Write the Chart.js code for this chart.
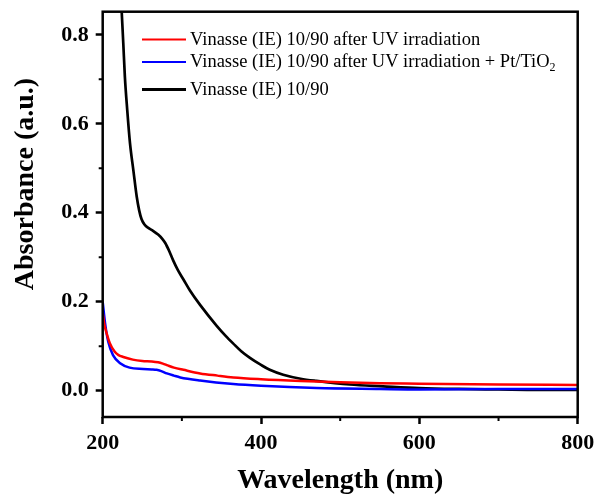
<!DOCTYPE html>
<html>
<head>
<meta charset="utf-8">
<script src="https://cdn.jsdelivr.net/npm/chart.js@4/dist/chart.umd.min.js"></script>
<style>
  html, body { margin: 0; padding: 0; background: #fff; }
  #wrap { width: 597px; height: 496px; position: relative; }
</style>
</head>
<body>
<div id="wrap"><canvas id="chrtAbs"></canvas></div>
<script>
// values
const redWl = [200, 202, 205, 209, 215, 220, 226, 238, 250, 262, 270, 276, 282, 290, 302, 323, 345, 365, 400, 450, 500, 550, 600, 700, 800];
const redAbs = [0.175, 0.150, 0.129, 0.107, 0.088, 0.080, 0.076, 0.070, 0.067, 0.066, 0.064, 0.061, 0.057, 0.052, 0.047, 0.039, 0.034, 0.030, 0.026, 0.022, 0.019, 0.017, 0.016, 0.014, 0.013];

const blueWl = [200, 203, 207, 213, 222, 234, 251, 262, 268, 274, 281, 290, 298, 323, 365, 400, 470, 550, 600, 700, 800];
const blueAbs = [0.200, 0.152, 0.110, 0.080, 0.062, 0.052, 0.049, 0.048, 0.047, 0.044, 0.039, 0.034, 0.030, 0.023, 0.015, 0.011, 0.006, 0.004, 0.003, 0.004, 0.004];

const blackWl = [222.5, 224, 226, 228, 231, 234.5, 238.7, 243, 246, 249, 253, 257.6, 264, 270, 275, 279, 284, 289, 295, 302, 310, 323, 344, 355, 365, 375, 386, 400, 411, 428, 450, 470, 512, 554, 600, 650, 700, 750, 800];
const blackAbs = [0.906, 0.852, 0.781, 0.706, 0.631, 0.556, 0.496, 0.436, 0.406, 0.386, 0.373, 0.366, 0.359, 0.351, 0.342, 0.332, 0.314, 0.293, 0.271, 0.250, 0.226, 0.193, 0.146, 0.124, 0.106, 0.089, 0.074, 0.058, 0.047, 0.036, 0.027, 0.022, 0.014, 0.010, 0.006, 0.004, 0.003, 0.002, 0.002];

const seriesLabels = [
    "Vinasse (IE) 10/90 after UV irradiation",
    "Vinasse (IE) 10/90 after UV irradiation + Pt/TiO₂",
    "Vinasse (IE) 10/90"
];
const seriesColors = ["#ff0000", "#0000ff", "#000000"];

const xMajor = [200, 400, 600, 800];
const xMinor = [300, 500, 700];
const yMajor = [0.0, 0.2, 0.4, 0.6, 0.8];
const yMinor = [0.1, 0.3, 0.5, 0.7];

const SERIF = "'Liberation Serif', 'Times New Roman', serif";

function toPoints(xs, ys) {
    return xs.map((x, i) => ({ x: x, y: ys[i] }));
}

// frame, minor ticks, y title and legend
const decoPlugin = {
    id: "deco",
    afterDatasetsDraw(chart) {
        const ctx = chart.ctx, a = chart.chartArea;
        const xs = chart.scales.x, ys = chart.scales.y;
        ctx.save();
        ctx.strokeStyle = "#000";
        ctx.lineWidth = 2.5;
        ctx.strokeRect(a.left, a.top, a.right - a.left, a.bottom - a.top);

        ctx.lineWidth = 2;
        ctx.beginPath();
        for (let v of xMinor) {
            let px = xs.getPixelForValue(v);
            ctx.moveTo(px, a.bottom);
            ctx.lineTo(px, a.bottom + 4);
        }
        for (let v of yMinor) {
            let py = ys.getPixelForValue(v);
            ctx.moveTo(a.left, py);
            ctx.lineTo(a.left - 4, py);
        }
        ctx.stroke();

        // y axis title
        ctx.fillStyle = "#000";
        ctx.font = "bold 28px " + SERIF;
        ctx.textAlign = "center";
        ctx.textBaseline = "middle";
        ctx.translate(26, 184);
        ctx.rotate(-Math.PI / 2);
        ctx.fillText("Absorbance (a.u.)", 0, 0);
        ctx.restore();

        // legend
        ctx.save();
        const rowsY = [39.5, 62, 89.5];
        const lineW = [2, 2, 3];
        ctx.textAlign = "left";
        ctx.textBaseline = "middle";
        ctx.fillStyle = "#000";
        for (let i = 0; i < seriesLabels.length; i++) {
            let y = rowsY[i];
            ctx.strokeStyle = seriesColors[i];
            ctx.lineWidth = lineW[i];
            ctx.beginPath();
            ctx.moveTo(142, y);
            ctx.lineTo(186, y);
            ctx.stroke();
            let txt = seriesLabels[i];
            ctx.font = "18.5px " + SERIF;
            if (txt.endsWith("₂")) {
                let main = txt.slice(0, -1);
                ctx.fillText(main, 190, y + 0.5);
                let w = ctx.measureText(main).width;
                ctx.font = "12px " + SERIF;
                ctx.fillText("2", 190 + w, y + 6);
            } else {
                ctx.fillText(txt, 190, y + 0.5);
            }
        }
        ctx.restore();
    }
};

const dataSets = [
    { data: toPoints(redWl, redAbs), idx: 0 },
    { data: toPoints(blueWl, blueAbs), idx: 1 },
    { data: toPoints(blackWl, blackAbs), idx: 2 }
].map(s => ({
    label: seriesLabels[s.idx],
    data: s.data,
    borderColor: seriesColors[s.idx],
    backgroundColor: seriesColors[s.idx],
    borderWidth: s.idx == 2 ? 2.7 : 2.5,
    pointRadius: 0,
    fill: false,
    cubicInterpolationMode: "monotone"
}));

new Chart(document.getElementById("chrtAbs"), {
    type: "line",
    data: { datasets: dataSets },
    plugins: [decoPlugin],
    options: {
        responsive: true,
        maintainAspectRatio: false,
        animation: false,
        events: [],
        layout: { padding: { top: 11.7, right: 19.3, left: 0, bottom: 0 } },
        plugins: {
            legend: { display: false },
            tooltip: { enabled: false }
        },
        scales: {
            x: {
                type: "linear",
                min: 200,
                max: 800,
                afterBuildTicks: s => { s.ticks = xMajor.map(v => ({ value: v })); },
                afterFit: s => { s.height = 79; s.paddingLeft = 0; s.paddingRight = 0; },
                border: { display: false },
                grid: { drawOnChartArea: false, drawTicks: true, tickLength: 7, tickWidth: 2.5, tickColor: "#000" },
                ticks: {
                    color: "#000",
                    padding: 6,
                    maxRotation: 0,
                    font: { family: SERIF, size: 22, weight: "bold" }
                },
                title: {
                    display: true,
                    text: "Wavelength (nm)",
                    color: "#000",
                    padding: { top: 0, bottom: 0 },
                    font: { family: SERIF, size: 28, weight: "bold", lineHeight: 1.1 }
                }
            },
            y: {
                type: "linear",
                min: -0.059,
                max: 0.852,
                afterBuildTicks: s => { s.ticks = yMajor.map(v => ({ value: v })); },
                afterFit: s => { s.width = 102.7; s.paddingTop = 0; s.paddingBottom = 0; },
                border: { display: false },
                grid: { drawOnChartArea: false, drawTicks: true, tickLength: 7, tickWidth: 2.5, tickColor: "#000" },
                ticks: {
                    color: "#000",
                    padding: 7,
                    font: { family: SERIF, size: 22, weight: "bold" },
                    callback: v => v.toFixed(1)
                }
            }
        }
    }
});
</script>
</body>
</html>
